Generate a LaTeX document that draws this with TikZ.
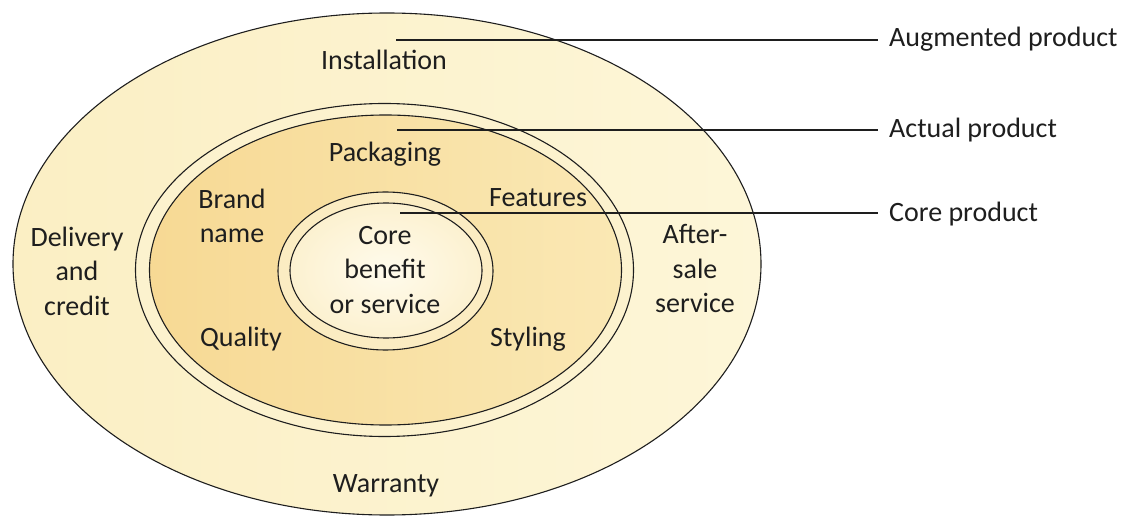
\documentclass[tikz,border=0pt]{standalone}
\usepackage{fontspec}
\setmainfont{Carlito}
\definecolor{outerL}{RGB}{251,239,196}
\definecolor{outerR}{RGB}{253,246,216}
\definecolor{gapring}{RGB}{252,242,206}
\definecolor{midL}{RGB}{247,217,148}
\definecolor{midR}{RGB}{250,232,180}
\definecolor{coregap}{RGB}{251,236,194}
\definecolor{coreIn}{RGB}{255,251,236}
\definecolor{coreOut}{RGB}{252,241,208}
\definecolor{ink}{RGB}{30,30,30}
\begin{document}
\begin{tikzpicture}[x=1pt,y=-1pt,
  ring/.style={draw=ink, line width=1.1pt},
  lbl/.style={font=\fontsize{28}{34.5}\selectfont, text=ink, inner sep=0pt, align=center},
  leader/.style={draw=ink, line width=1.1pt, shorten >=11pt}]
\useasboundingbox (0,0) rectangle (1122,521);
\fill[white] (0,0) rectangle (1122,521);

% augmented product ring
\draw[ring, left color=outerL, right color=outerR] (387,264) ellipse [x radius=374pt, y radius=251pt];
% actual product: double outline
\draw[ring, fill=gapring] (384.5,270) ellipse [x radius=249pt, y radius=166.5pt];
\draw[ring, left color=midL, right color=midR] (385.5,270) ellipse [x radius=236pt, y radius=155pt];
% core product: double outline
\draw[ring, fill=coregap] (385.5,271) ellipse [x radius=107.5pt, y radius=79pt];
\draw[ring, inner color=coreIn, outer color=coreOut] (386,270.5) ellipse [x radius=96pt, y radius=67.5pt];

% ring contents
\node[lbl, anchor=base] (install) at (384,70) {Installation};
\node[lbl, anchor=base] (warranty) at (386,492) {Warranty};
\node[lbl] (delivery) at (77,271) {Delivery\\and\\credit};
\node[lbl] (aftersale) at (695,269) {After-\\sale\\service};
\node[lbl, anchor=base] (packaging) at (385,162) {Packaging};
\node[lbl] (brand) at (232,216) {Brand\\name};
\node[lbl, anchor=base] (features) at (538,207) {Features};
\node[lbl, anchor=base] (quality) at (241,346) {Quality};
\node[lbl, anchor=base] (styling) at (528,346) {Styling};
\node[lbl] (core) at (385,270) {Core\\benefit\\or service};

% level labels and leaders
\node[lbl, anchor=base west] (augmented) at (889,47) {Augmented product};
\node[lbl, anchor=base west] (actual) at (889,138) {Actual product};
\node[lbl, anchor=base west] (coreprod) at (889,222) {Core product};
\coordinate (s1) at (396,40);
\coordinate (s2) at (397,130);
\coordinate (s3) at (400,213);
\draw[leader] (s1) -- (s1 -| augmented.west);
\draw[leader] (s2) -- (s2 -| actual.west);
\draw[leader] (s3) -- (s3 -| coreprod.west);
\end{tikzpicture}
\end{document}
